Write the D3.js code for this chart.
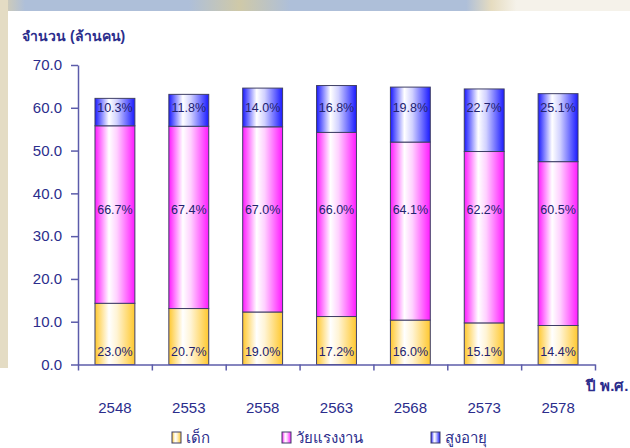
<!DOCTYPE html>
<html>
<head>
<meta charset="utf-8">
<script src="https://cdn.jsdelivr.net/npm/d3@7"></script>
<style>
  body { margin: 0; background: #fff; }
  svg text { font-family: Arial, "Liberation Sans", sans-serif; }
</style>
</head>
<body>
<svg id="vis" width="630" height="448"></svg>
<script>
// population by year (millions) and age-group shares
const years = ["2548", "2553", "2558", "2563", "2568", "2573", "2578"];
const totals = [62.2, 63.2, 64.6, 65.2, 64.9, 64.4, 63.3];
const childPct = [23.0, 20.7, 19.0, 17.2, 16.0, 15.1, 14.4];
const workPct = [66.7, 67.4, 67.0, 66.0, 64.1, 62.2, 60.5];
const oldPct = [10.3, 11.8, 14.0, 16.8, 19.8, 22.7, 25.1];
const yTicks = [0, 10, 20, 30, 40, 50, 60, 70];
const groups = ["เด็ก", "วัยแรงงาน", "สูงอายุ"];

const textColor = "#2b2d8c";
const axisColor = "#5c5caa";

const svg = d3.select("svg#vis");

// backdrop (faded slide background)
const defs = svg.append("defs");
const band = defs.append("linearGradient").attr("id", "topband");
band.append("stop").attr("offset", "0%").attr("stop-color", "#d9cfae");
band.append("stop").attr("offset", "4%").attr("stop-color", "#aebfd9");
band.append("stop").attr("offset", "30%").attr("stop-color", "#aebfd9");
band.append("stop").attr("offset", "38%").attr("stop-color", "#cfc9a8");
band.append("stop").attr("offset", "46%").attr("stop-color", "#aebfd9");
band.append("stop").attr("offset", "74%").attr("stop-color", "#aebfd9");
band.append("stop").attr("offset", "78%").attr("stop-color", "#e6dcc0");
band.append("stop").attr("offset", "82%").attr("stop-color", "#f5f2ea");
svg.append("rect").attr("width", 630).attr("height", 11).attr("fill", "url(#topband)");
svg.append("rect").attr("y", 0).attr("width", 8).attr("height", 368).attr("fill", "#e4dcc4");

svg.append("rect").attr("x", 8).attr("y", 11).attr("width", 622).attr("height", 437).attr("fill", "#fff");

// horizontal gradients for the bars
const palette = { c: "#ffc82e", w: "#ff1aff", o: "#1a1aff" };
Object.entries(palette).forEach(function([k, col]) {
  const gr = defs.append("linearGradient").attr("id", "grad-" + k);
  gr.append("stop").attr("offset", "0%").attr("stop-color", col);
  gr.append("stop").attr("offset", "35%").attr("stop-color", "#ffffff");
  gr.append("stop").attr("offset", "55%").attr("stop-color", d3.interpolateRgb("#ffffff", col)(0.2));
  gr.append("stop").attr("offset", "100%").attr("stop-color", col);
});

const x = d3.scaleBand().domain(years).range([78, 595]).paddingInner(0.46).paddingOuter(0.23);
const xIdx = d3.scaleLinear().domain([0, years.length]).range([78, 595]);
const y = d3.scaleLinear().domain([0, 70]).range([364.5, 65]);

// stacked data
const rows = years.map(function(yr, i) {
  return {
    year: yr,
    c: totals[i] * childPct[i] / 100,
    w: totals[i] * workPct[i] / 100,
    o: totals[i] * oldPct[i] / 100,
    cp: childPct[i], wp: workPct[i], op: oldPct[i]
  };
});
const series = d3.stack().keys(["c", "w", "o"])(rows);

const bars = svg.append("g").attr("id", "bars");
bars.selectAll("g.series")
  .data(series)
  .enter()
  .append("g")
  .attr("class", "series")
  .attr("fill", d => "url(#grad-" + d.key + ")")
  .selectAll("rect")
  .data(d => d)
  .enter()
  .append("rect")
  .attr("x", d => x(d.data.year))
  .attr("width", x.bandwidth())
  .attr("y", d => y(d[1]))
  .attr("height", d => y(d[0]) - y(d[1]))
  .attr("stroke", "#3f3f66")
  .attr("stroke-width", 1);

// percentage labels (fixed heights, as in the original)
const labelLevels = { c: 3.1, w: 36.1, o: 60.1 };
const labels = svg.append("g").attr("id", "labels");
["c", "w", "o"].forEach(function(k) {
  labels.selectAll("text." + k)
    .data(rows)
    .enter()
    .append("text")
    .attr("class", k)
    .attr("x", d => x(d.year) + x.bandwidth() / 2)
    .attr("y", y(labelLevels[k]))
    .attr("dy", "0.35em")
    .attr("text-anchor", "middle")
    .attr("font-size", "12.5px")
    .attr("fill", "#22226e")
    .text(d => d[k + "p"].toFixed(1) + "%");
});

// y axis
const yAxis = svg.append("g")
  .attr("transform", "translate(78,0)")
  .call(d3.axisLeft(y).tickValues(yTicks).tickFormat(d3.format(".1f")).tickSize(7).tickSizeOuter(0).tickPadding(9));

// x axis: boundary ticks and year labels
const xTicks = svg.append("g")
  .attr("transform", "translate(0,364.5)")
  .call(d3.axisBottom(xIdx).tickValues(d3.range(years.length + 1)).tickFormat("").tickSize(6).tickSizeOuter(0));
const xAxis = svg.append("g")
  .attr("transform", "translate(0,364.5)")
  .call(d3.axisBottom(x).tickSize(0).tickPadding(38));
xAxis.select(".domain").remove();

[yAxis, xTicks, xAxis].forEach(function(a) {
  a.selectAll("path, line").attr("stroke", axisColor).attr("stroke-width", 1.5);
  a.selectAll("text").attr("fill", textColor).attr("font-size", "15px")
    .attr("font-family", "Arial, 'Liberation Sans', sans-serif");
});

// titles
svg.append("text")
  .attr("x", 22).attr("y", 41)
  .attr("font-size", "14px").attr("font-weight", "bold")
  .attr("fill", textColor)
  .text("จำนวน (ล้านคน)");
svg.append("text")
  .attr("x", 586).attr("y", 391)
  .attr("font-size", "15px").attr("font-weight", "bold")
  .attr("fill", textColor)
  .text("ปี พ.ศ.");

// legend
const legendX = [172, 282, 431];
const legend = svg.append("g").attr("id", "legend");
const keys = ["c", "w", "o"];
keys.forEach(function(k, i) {
  legend.append("rect")
    .attr("x", legendX[i]).attr("y", 432)
    .attr("width", 9).attr("height", 11)
    .attr("fill", "url(#grad-" + k + ")")
    .attr("stroke", "#3f3f66");
  legend.append("text")
    .attr("x", legendX[i] + 14).attr("y", 443)
    .attr("font-size", "15px")
    .attr("fill", textColor)
    .text(groups[i]);
});
</script>
</body>
</html>
